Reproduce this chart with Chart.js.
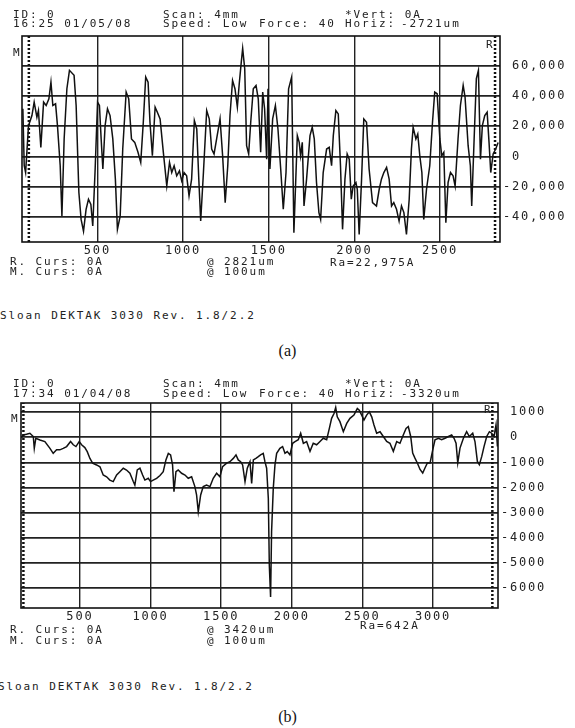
<!DOCTYPE html>
<html>
<head>
<meta charset="utf-8">
<script src="https://cdn.jsdelivr.net/npm/chart.js@4.4.1/dist/chart.umd.min.js"></script>
<style>
  body { margin: 0; background: #fff; }
  #page { position: relative; width: 575px; height: 728px; overflow: hidden; }
  canvas { position: absolute; left: 0; }
  .t { position: absolute; font: 11px "DejaVu Sans Mono", monospace; letter-spacing: 1.9px;
       line-height: 11px; color: #222; white-space: pre; }
  .cap { position: absolute; left: 0; width: 575px; text-align: center;
         font: 16px "Liberation Serif", serif; line-height: 16px; color: #111; }
</style>
</head>
<body>
<div id="page">
  <canvas id="chartA" width="575" height="262" style="top:0"></canvas>
  <canvas id="chartB" width="575" height="248" style="top:380px"></canvas>

  <!-- (a) header / footer -->
  <span class="t" style="left:13px;top:8.5px">ID: 0</span>
  <span class="t" style="left:13px;top:17.5px">16:25 01/05/08</span>
  <span class="t" style="left:163px;top:8.5px">Scan: 4mm</span>
  <span class="t" style="left:163px;top:17.5px">Speed: Low</span>
  <span class="t" style="left:259px;top:17.5px">Force: 40</span>
  <span class="t" style="left:345px;top:8.5px">*Vert: 0A</span>
  <span class="t" style="left:345px;top:17.5px">Horiz:</span>
  <span class="t" style="left:401px;top:17.5px">-2721um</span>
  <span class="t" style="left:486px;top:38.5px">R</span>
  <span class="t" style="left:13px;top:46.5px">M</span>
  <span class="t" style="left:10px;top:255.5px">R. Curs: 0A</span>
  <span class="t" style="left:10px;top:265.5px">M. Curs: 0A</span>
  <span class="t" style="left:207px;top:255.5px">@ 2821um</span>
  <span class="t" style="left:207px;top:265.5px">@ 100um</span>
  <span class="t" style="left:330px;top:256.5px">Ra=22,975A</span>
  <span class="t" style="left:0px;top:309.5px">Sloan DEKTAK 3030 Rev. 1.8/2.2</span>
  <div class="cap" style="top:343px">(a)</div>

  <!-- (b) header / footer -->
  <span class="t" style="left:13px;top:377.5px">ID: 0</span>
  <span class="t" style="left:13px;top:387.5px">17:34 01/04/08</span>
  <span class="t" style="left:163px;top:377.5px">Scan: 4mm</span>
  <span class="t" style="left:163px;top:387.5px">Speed: Low</span>
  <span class="t" style="left:259px;top:387.5px">Force: 40</span>
  <span class="t" style="left:345px;top:377.5px">*Vert: 0A</span>
  <span class="t" style="left:345px;top:387.5px">Horiz:</span>
  <span class="t" style="left:401px;top:387.5px">-3320um</span>
  <span class="t" style="left:484px;top:403.5px">R</span>
  <span class="t" style="left:11px;top:412.5px">M</span>
  <span class="t" style="left:10px;top:623.5px">R. Curs: 0A</span>
  <span class="t" style="left:10px;top:634.5px">M. Curs: 0A</span>
  <span class="t" style="left:207px;top:623.5px">@ 3420um</span>
  <span class="t" style="left:207px;top:634.5px">@ 100um</span>
  <span class="t" style="left:360px;top:619.5px">Ra=642A</span>
  <span class="t" style="left:-2px;top:680.5px">Sloan DEKTAK 3030 Rev. 1.8/2.2</span>
  <div class="cap" style="top:709px">(b)</div>
</div>

<script>
// scan (a): position in um, height in Angstrom
const scanA_x = [65, 73, 81, 98, 118, 131, 147, 156, 170, 186, 201, 217, 229, 240, 256, 267, 283, 293, 306, 322,
  337, 364, 376, 392, 405, 419, 434, 448, 462, 473, 487, 501, 512, 522, 532, 545, 559, 574, 590, 605,
  617, 633, 648, 668, 683, 699, 718, 737, 753, 768, 782, 796, 807, 821, 837, 850, 866, 885, 905, 921,
  934, 948, 963, 979, 992, 1006, 1021, 1035, 1050, 1066, 1080, 1092, 1103, 1119, 1138, 1153, 1167, 1181, 1196, 1216,
  1231, 1246, 1261, 1274, 1289, 1303, 1317, 1328, 1340, 1348, 1360, 1371, 1383, 1395, 1410, 1426, 1439, 1453, 1465, 1476,
  1488, 1496, 1507, 1523, 1539, 1554, 1570, 1585, 1601, 1616, 1634, 1647, 1667, 1678, 1686, 1696, 1706, 1721, 1741, 1754,
  1766, 1779, 1793, 1803, 1818, 1838, 1853, 1867, 1877, 1892, 1906, 1919, 1931, 1945, 1958, 1970, 1982, 1993, 2009, 2017,
  2028, 2042, 2055, 2071, 2086, 2106, 2129, 2145, 2158, 2172, 2188, 2203, 2217, 2230, 2246, 2261, 2275, 2289, 2304, 2320,
  2333, 2343, 2359, 2370, 2382, 2394, 2405, 2421, 2440, 2456, 2469, 2483, 2499, 2510, 2522, 2534, 2547, 2561, 2576, 2588,
  2605, 2619, 2635, 2646, 2664, 2677, 2685, 2699, 2712, 2724, 2736, 2747, 2761, 2775, 2786, 2796, 2810, 2825, 2839];
const scanA_y = [31600, -6200, -10700, 20400, 27100, 36000, 26000, 30400, 6000, 36000, 33800, 38200, 49300, 33800, 34900, 20400, -6200, -39600, 11600, 44900,
  57100, 53800, 33800, -24000, -41800, -49600, -35100, -28400, -31800, -46200, -8400, 36000, 33800, 11600, -8400, 20400, 31600, 27100, 11600, -15100,
  -48400, -39600, 4900, 42700, 38200, 11600, 9300, 2700, -4000, 22700, 52700, 49300, 22700, 400, 32700, 29300, 24900, 2700, -19600, -4000,
  -10700, -6200, -12900, -9600, -16200, -10700, -12900, -26200, -15100, 23800, 18200, -15100, -42900, -10700, 30400, 24900, 4900, 1600, 11600, 24900,
  400, -30700, -6200, 27100, 50400, 44900, 32700, 48200, 62700, 71600, 58200, 7100, 1600, 22700, 44900, 47100, 38200, 2700, 42700, 31600,
  -1800, 44900, -8400, 24900, 33800, 18200, -8400, -35100, -10700, 44900, 52700, -50700, 13800, 9300, 400, 9300, -32900, -15100, 13800, 19300,
  11600, -17300, -37300, -41800, -10700, 4900, 6000, -6200, 13800, 30400, 28200, -6200, -48400, -15100, 1600, -1800, -28400, -19600, -17300, -21800,
  -51800, -15100, 24900, 22700, -8400, -30700, -32900, -21800, -15100, -10700, -7300, -15100, -32900, -30700, -35100, -42900, -32900, -37300, -51800, -28400,
  4900, 19300, 11600, 14900, 400, -10700, -41800, -21800, -6200, 22700, 42700, 41600, 11600, 400, 2700, -44000, -17300, -10700, -12900, -19600,
  11600, 33800, 47100, 39300, 7100, -6200, -32900, 11600, 51600, 57100, -1800, 20400, 27100, 29300, 9300, -10700, 1600, 4900, 9300];
const xTicksA = [500, 1000, 1500, 2000, 2500];
const yTicksA = [60000, 40000, 20000, 0, -20000, -40000];
const cursorsA = [100, 2821];

// scan (b)
const scanB_x = [87, 99, 122, 146, 170, 177, 188, 217, 252, 288, 311, 335, 358, 382, 406, 434, 453, 472, 495, 512,
  535, 552, 571, 590, 618, 642, 665, 689, 712, 736, 760, 783, 807, 830, 854, 878, 889, 906, 925, 944,
  960, 984, 1000, 1019, 1043, 1067, 1090, 1109, 1126, 1142, 1156, 1166, 1180, 1196, 1220, 1244, 1267, 1291, 1314, 1326,
  1338, 1355, 1373, 1397, 1421, 1444, 1468, 1491, 1510, 1539, 1562, 1586, 1605, 1621, 1638, 1652, 1669, 1685, 1704, 1716,
  1728, 1746, 1763, 1779, 1798, 1810, 1822, 1834, 1841, 1850, 1857, 1869, 1881, 1893, 1916, 1935, 1952, 1968, 1987, 2006,
  2023, 2046, 2063, 2082, 2105, 2129, 2152, 2176, 2200, 2223, 2247, 2266, 2282, 2299, 2311, 2322, 2341, 2365, 2389, 2412,
  2440, 2464, 2478, 2495, 2511, 2530, 2549, 2566, 2582, 2601, 2625, 2648, 2672, 2695, 2719, 2743, 2766, 2785, 2809, 2825,
  2842, 2856, 2872, 2889, 2908, 2927, 2943, 2960, 2979, 2998, 3014, 3038, 3061, 3085, 3109, 3132, 3149, 3163, 3175, 3191,
  3215, 3238, 3257, 3281, 3297, 3314, 3328, 3345, 3361, 3380, 3399, 3415, 3432, 3446, 3456];
const scanB_y = [-10, 90, 120, 160, 30, -440, -40, -110, -170, -440, -640, -500, -500, -440, -370, -170, -300, -370, -170, -300,
  -410, -570, -840, -1030, -1100, -1170, -1500, -1570, -1700, -1760, -1500, -1370, -1230, -1300, -1430, -1760, -1900, -1300, -1230, -1500,
  -1700, -1630, -1760, -1700, -1630, -1520, -1370, -900, -640, -700, -1100, -2160, -1370, -1300, -1430, -1500, -1630, -1570, -1960, -2290,
  -2960, -2290, -1960, -1900, -1960, -1630, -1430, -1570, -1170, -1030, -970, -840, -700, -900, -970, -1100, -1760, -1230, -970, -1830,
  -900, -840, -770, -700, -640, -970, -1230, -2430, -5080, -6340, -3750, -2030, -1100, -640, -440, -370, -640, -570, -700, -240,
  -170, -100, 160, -240, -170, -560, -240, -300, -170, -40, -100, 350, 750, 940, 1180, 810, 620, 220, 550, 750,
  880, 1140, 1070, 880, 680, 880, 1010, 810, 490, 160, 220, 30, -170, -240, -560, -170, -240, 30, 350, 420,
  30, -630, -830, -1020, -1280, -1420, -1220, -1020, -1020, -500, -100, -40, -100, -40, 30, 90, -40, -240, -1020, -430,
  -40, 220, 30, 160, -170, -960, -1090, -760, -370, 30, 220, 160, 30, 490, -370];
const xTicksB = [500, 1000, 1500, 2000, 2500, 3000];
const yTicksB = [1000, 0, -1000, -2000, -3000, -4000, -5000, -6000];
const cursorsB = [100, 3420];

const mono = '"DejaVu Sans Mono", monospace';

// printer style frame around the plot area + wide tick text
const framePlugin = {
  id: 'frame',
  beforeDraw(chart) { chart.ctx.letterSpacing = '1.8px'; },
  beforeDatasetsDraw(chart) {
    const a = chart.chartArea, ctx = chart.ctx;
    ctx.save();
    ctx.strokeStyle = '#111';
    ctx.lineWidth = 1.6;
    ctx.strokeRect(a.left, a.top, a.right - a.left, a.bottom - a.top);
    ctx.restore();
  }
};

function makeChart(id, xs, ys, cursors, xTicks, yTicks, xr, yr, pad, yWidth, fmt) {
  const pts = xs.map((x, i) => ({ x: x, y: ys[i] }));
  const datasets = [{
    data: pts, borderColor: '#111', borderWidth: 1.5, pointRadius: 0, tension: 0
  }];
  cursors.forEach(c => datasets.push({
    data: [{ x: c, y: yr[0] }, { x: c, y: yr[1] }],
    borderColor: '#111', borderWidth: 2.5, borderDash: [2, 2], pointRadius: 0
  }));
  return new Chart(document.getElementById(id), {
    type: 'line',
    data: { datasets: datasets },
    options: {
      responsive: false, animation: false, devicePixelRatio: 1,
      layout: { padding: pad },
      plugins: { legend: { display: false }, tooltip: { enabled: false } },
      scales: {
        x: {
          type: 'linear', min: xr[0], max: xr[1],
          afterBuildTicks: ax => { ax.ticks = xTicks.map(v => ({ value: v })); },
          afterFit: ax => { ax.height = 20; },
          grid: { color: '#222', lineWidth: 1.4, drawTicks: false },
          border: { display: false },
          ticks: { padding: 2, color: '#222', maxRotation: 0, font: { family: mono, size: 12 },
            callback: v => String(v) }
        },
        y: {
          position: 'right', min: yr[0], max: yr[1],
          afterBuildTicks: ax => { ax.ticks = yTicks.map(v => ({ value: v })); },
          afterFit: ax => { ax.width = yWidth; },
          grid: { color: '#222', lineWidth: 1.8, drawTicks: false },
          border: { display: false },
          ticks: {
            padding: 3, crossAlign: 'near', color: '#222', font: { family: mono, size: 12 },
            callback: v => (v < 0 ? '' : ' ') + fmt(v)
          }
        }
      }
    },
    plugins: [framePlugin]
  });
}

makeChart('chartA', scanA_x, scanA_y, cursorsA, xTicksA, yTicksA,
  [60, 2850], [-56800, 79900], { left: 22, top: 36, right: 0, bottom: 0 }, 75,
  v => v.toLocaleString('en-US'));
makeChart('chartB', scanB_x, scanB_y, cursorsB, xTicksB, yTicksB,
  [83, 3460], [-6780, 1360], { left: 21, top: 23, right: 0, bottom: 0 }, 77,
  v => String(v));
</script>
</body>
</html>
